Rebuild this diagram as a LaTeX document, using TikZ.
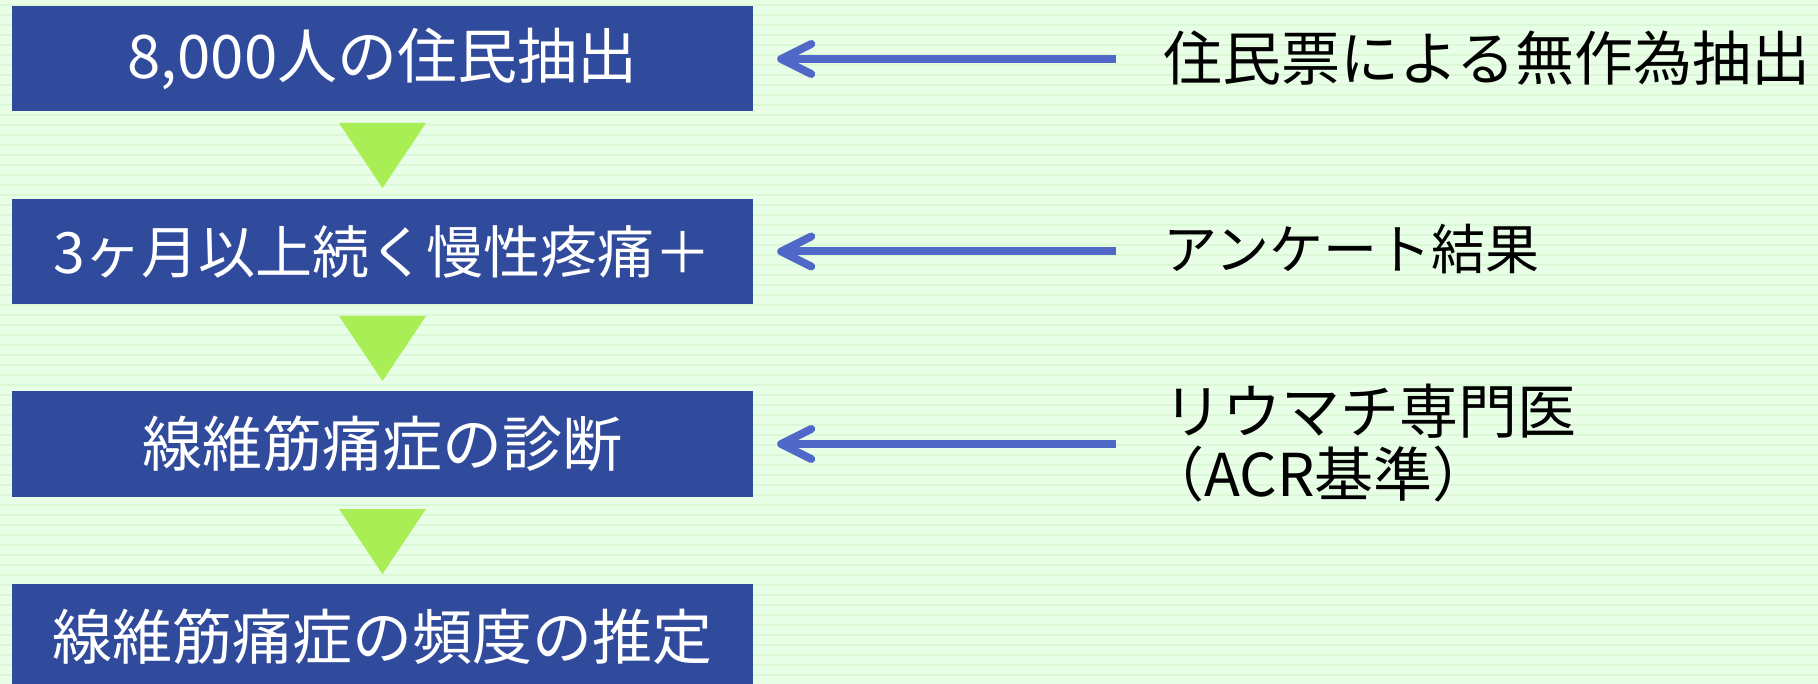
\documentclass[tikz,border=0pt]{standalone}
\usepackage{fontspec}
\setmainfont{Noto Sans CJK JP}
\usetikzlibrary{arrows.meta}
\definecolor{bg}{RGB}{232,254,230}
\definecolor{bgline}{RGB}{218,248,214}
\definecolor{boxblue}{RGB}{48,74,156}
\definecolor{trigreen}{RGB}{170,238,85}
\definecolor{arrblue}{RGB}{80,104,200}
\begin{document}
\begin{tikzpicture}[x=1pt,y=-1pt,
  stepbox/.style={fill=boxblue, text=white, minimum width=741pt, minimum height=105pt, inner sep=0pt, font=\fontsize{60}{60}\selectfont},
  tri/.style={fill=trigreen},
  note/.style={inner sep=0pt, align=left, font=\fontsize{59}{63}\selectfont},
  arr/.style={draw=arrblue, line width=8pt, -{Straight Barb[length=30pt,width=30pt,round]}, shorten <=47pt, shorten >=24pt}
]
\useasboundingbox (0,0) rectangle (1818,684);
\fill[bg] (0,0) rectangle (1818,684);
\foreach \yy in {5,15,...,685} \draw[bgline, line width=1.2pt] (0,\yy) -- (1818,\yy);

\node[stepbox] (b1) at (382.5,59) {\raisebox{-5pt}{8,000人の住民抽出}};
\node[stepbox, font=\fontsize{57}{57}\selectfont] (b2) at (382.5,251.5) {\raisebox{-5pt}{3ヶ月以上続く慢性疼痛＋}};
\node[stepbox] (b3) at (382.5,444) {\raisebox{-5pt}{線維筋痛症の診断}};
\node[stepbox] (b4) at (382.5,636.5) {\raisebox{-5pt}{線維筋痛症の頻度の推定}};

\fill[tri] (339,123) -- (426,123) -- (382.5,188) -- cycle;
\fill[tri] (339,316) -- (426,316) -- (382.5,381) -- cycle;
\fill[tri] (339,509) -- (426,509) -- (382.5,574) -- cycle;

\node[note, anchor=west] (r1) at (1163,58) {住民票による無作為抽出};
\node[note, anchor=west, font=\fontsize{54}{63}\selectfont] (r2) at (1163,249) {アンケート結果};
\node[note, anchor=west] (r3) at (1163,443) {リウマチ専門医\\\hspace*{-18pt}（ACR基準）};

\draw[arr] (r1.west |- b1.east) -- (b1.east);
\draw[arr] (r2.west |- b2.east) -- (b2.east);
\draw[arr] (r3.west |- b3.east) -- (b3.east);
\end{tikzpicture}
\end{document}
